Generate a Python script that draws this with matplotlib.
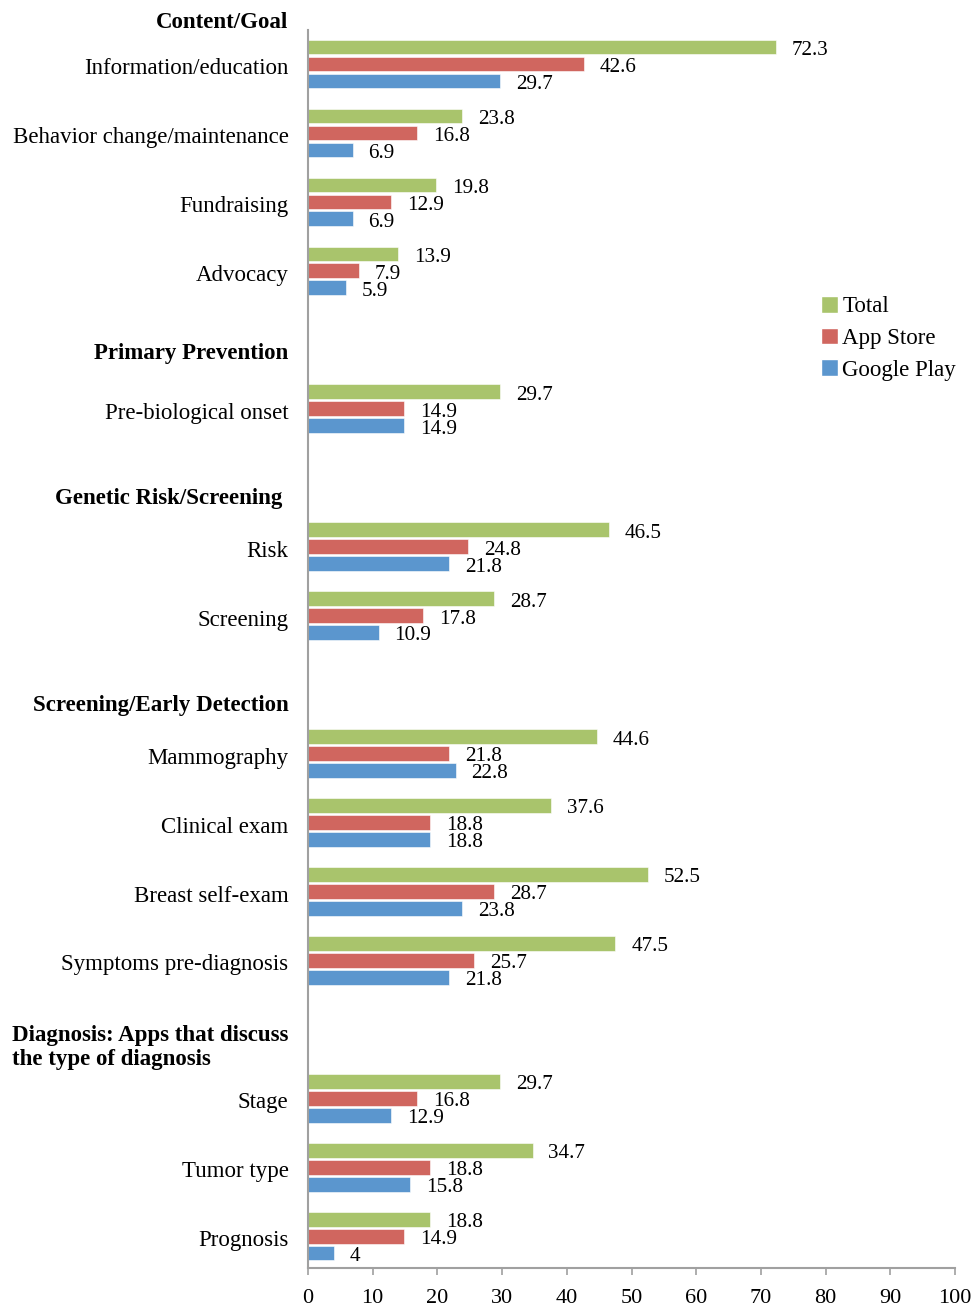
import matplotlib
matplotlib.use("Agg")
import matplotlib.pyplot as plt
from matplotlib.patches import Patch
import numpy as np

plt.rcParams['font.family'] = ['Liberation Serif', 'DejaVu Serif']

# categories, with their slot on the y axis (empty slots hold the group headings)
categories = ['Information/education', 'Behavior change/maintenance', 'Fundraising', 'Advocacy',
              'Pre-biological onset', 'Risk', 'Screening', 'Mammography', 'Clinical exam',
              'Breast self-exam', 'Symptoms pre-diagnosis', 'Stage', 'Tumor type', 'Prognosis']
slots = [0, 1, 2, 3, 5, 7, 8, 10, 11, 12, 13, 15, 16, 17]

total = [72.3, 23.8, 19.8, 13.9, 29.7, 46.5, 28.7, 44.6, 37.6, 52.5, 47.5, 29.7, 34.7, 18.8]
app_store = [42.6, 16.8, 12.9, 7.9, 14.9, 24.8, 17.8, 21.8, 18.8, 28.7, 25.7, 16.8, 18.8, 14.9]
google_play = [29.7, 6.9, 6.9, 5.9, 14.9, 21.8, 10.9, 22.8, 18.8, 23.8, 21.8, 12.9, 15.8, 4]

headers = ['Content/Goal', 'Primary Prevention', 'Genetic Risk/Screening ',
           'Screening/Early Detection', 'Diagnosis: Apps that discuss\nthe type of diagnosis']
header_pos = [-0.6, 4.2, 6.3, 9.3, 14.26]

series = [('Total', total, '#A9C46C'),
          ('App Store', app_store, '#D0665F'),
          ('Google Play', google_play, '#5B96CE')]

fig = plt.figure(figsize=(9.75, 13.11), dpi=100)
ax = fig.add_axes([0.3159, 0.0328, 0.6636, 0.9443])

y = np.array(slots, dtype=float)
step = 0.246
h = 0.21
for k, (name, vals, col) in enumerate(series):
    yy = y + (k - 1) * step
    ax.barh(yy, vals, height=h, color=col, edgecolor='white', linewidth=0.4)
    for v, yv in zip(vals, yy):
        lbl = '%g' % v
        ax.annotate(lbl, xy=(v, yv), xytext=(11.5, -2.5), textcoords='offset points',
                    ha='left', va='center', fontsize=15.2)

ax.set_xlim(0, 100)
ax.set_ylim(17.46, -0.49)
ax.set_xticks(np.arange(0, 101, 10))
ax.set_yticks(y + 0.03)
ax.set_yticklabels(categories, fontsize=16.5)
ax.tick_params(axis='y', length=0, pad=14)
ax.tick_params(axis='x', length=5, width=1.2, color='#A0A0A0', labelsize=16, pad=10)

for s in ['top', 'right']:
    ax.spines[s].set_visible(False)
for s in ['left', 'bottom']:
    ax.spines[s].set_color('#A0A0A0')
    ax.spines[s].set_linewidth(1.5)

for txt, pos in zip(headers, header_pos):
    ax.annotate(txt, xy=(0, pos), xytext=(-14, 0), textcoords='offset points',
                ha='right', va='center', fontsize=16.5, fontweight='bold',
                multialignment='left', annotation_clip=False, linespacing=1.2)

handles = [Patch(facecolor=c, edgecolor='white', label=n) for n, _, c in series]
fig.legend(handles=handles, loc='upper left', bbox_to_anchor=(0.83, 0.783),
           frameon=False, fontsize=16.5, handlelength=0.75, handleheight=0.75,
           handletextpad=0.2, labelspacing=0.45, borderpad=0)

fig.savefig('out.png', dpi=100)
